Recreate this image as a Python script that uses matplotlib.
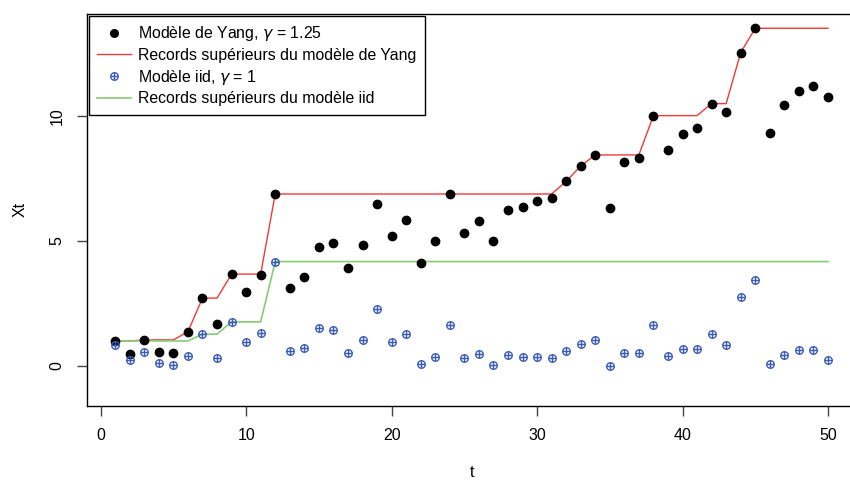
import numpy as np
import matplotlib.pyplot as plt
from matplotlib.lines import Line2D

plt.rcParams['font.family'] = ['Liberation Sans', 'DejaVu Sans']

t = np.arange(1, 51)

# modele de Yang, gamma = 1.25
yang = [0.98, 0.47, 1.04, 0.55, 0.51, 1.37, 2.71, 1.67, 3.67, 2.96,
        3.63, 6.87, 3.12, 3.55, 4.75, 4.91, 3.92, 4.83, 6.45, 5.20,
        5.83, 4.11, 5.00, 6.86, 5.33, 5.79, 5.00, 6.25, 6.33, 6.59,
        6.71, 7.37, 7.99, 8.43, 6.29, 8.16, 8.32, 10.00, 8.61, 9.28,
        9.49, 10.48, 10.16, 12.52, 13.49, 9.32, 10.44, 10.99, 11.19, 10.73]

# modele iid, gamma = 1
iid = [0.84, 0.22, 0.57, 0.11, 0.04, 0.40, 1.27, 0.33, 1.76, 0.97,
       1.31, 4.17, 0.59, 0.72, 1.53, 1.45, 0.51, 1.04, 2.28, 0.97,
       1.29, 0.09, 0.37, 1.63, 0.33, 0.47, 0.04, 0.43, 0.37, 0.37,
       0.33, 0.60, 0.87, 1.04, 0.00, 0.53, 0.51, 1.64, 0.41, 0.67,
       0.67, 1.28, 0.84, 2.76, 3.45, 0.08, 0.43, 0.63, 0.63, 0.25]

x0 = 1.0  # valeur initiale

labels = ['Modèle de Yang, $\\gamma$ = 1.25',
          'Records supérieurs du modèle de Yang',
          'Modèle iid, $\\gamma$ = 1',
          'Records supérieurs du modèle iid']

rec_yang = np.maximum.accumulate(np.r_[x0, yang])[1:]
rec_iid = np.maximum.accumulate(np.r_[x0, iid])[1:]

blue = '#3a5bb8'
red = '#f03a3a'
green = '#86cc74'

fig = plt.figure(figsize=(8.5, 4.82), dpi=100)
ax = fig.add_axes([86.7 / 850, 76.5 / 482, 769.8 / 850, 392 / 482])

ax.plot(t, rec_yang, color=red, lw=1.0, zorder=2)
ax.plot(t, rec_iid, color=green, lw=1.2, zorder=2)
ax.plot(t, yang, 'o', color='black', ms=6.0, zorder=3)
ax.plot(t, iid, 'o', mfc='none', mec=blue, ms=5.4, mew=1.0, zorder=3)
ax.plot(t, iid, '+', color=blue, ms=5.4, mew=1.0, zorder=3)

ax.set_xlim(-0.96, 51.96)
ax.set_ylim(-1.58, 14.08)
ax.set_xticks([0, 10, 20, 30, 40, 50])
ax.set_yticks([0, 5, 10])
ax.tick_params(labelsize=11.5, length=7, width=1, color='#444444', pad=9)
for lab in ax.get_yticklabels():
    lab.set_rotation(90)
    lab.set_va('center')
ax.set_xlabel('t', fontsize=11.5, labelpad=16)
ax.set_ylabel('Xt', fontsize=11.5, labelpad=16)
for s in ax.spines.values():
    s.set_linewidth(1.0)

h_circ = Line2D([], [], ls='none', marker='o', mfc='none', mec=blue, ms=5.4, mew=1.0)
h_plus = Line2D([], [], ls='none', marker='+', color=blue, ms=5.4, mew=1.0)
handles = [
    Line2D([], [], ls='none', marker='o', color='black', ms=5.5),
    Line2D([], [], color=red, lw=1.0),
    (h_circ, h_plus),
    Line2D([], [], color=green, lw=1.2),
]
leg = ax.legend(handles, labels, loc='upper left', bbox_to_anchor=(2 / 769.8, 1 - 2 / 392),
                borderaxespad=0, fancybox=False, edgecolor='black', framealpha=1,
                fontsize=11.4, handlelength=2.1, handletextpad=0.45, labelspacing=0.3,
                borderpad=0.55)
leg.get_frame().set_linewidth(1.0)

fig.savefig('out.png', dpi=100)
